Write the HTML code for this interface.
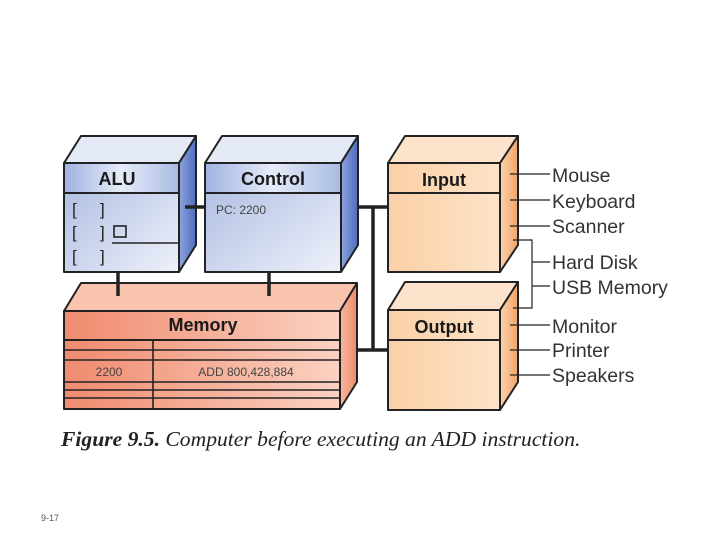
<!DOCTYPE html>
<html><head><style>body{margin:0;background:#fff}svg{display:block}</style></head><body>
<svg width="720" height="540" viewBox="0 0 720 540" xmlns="http://www.w3.org/2000/svg" font-family="Liberation Sans, sans-serif">
<defs>
<linearGradient id="bf" x1="0" y1="0" x2="1" y2="1"><stop offset="0" stop-color="#a9b9e0"/><stop offset="1" stop-color="#eef1fa"/></linearGradient>
<linearGradient id="bh" x1="0" y1="0" x2="1" y2="0"><stop offset="0" stop-color="#9fb2e0"/><stop offset="0.5" stop-color="#e6ebf8"/><stop offset="1" stop-color="#a9bbe3"/></linearGradient>
<linearGradient id="bs" x1="0" y1="0" x2="1" y2="0"><stop offset="0" stop-color="#8ea4dc"/><stop offset="1" stop-color="#4e6cc0"/></linearGradient>
<linearGradient id="rf" x1="0" y1="0" x2="1" y2="0"><stop offset="0" stop-color="#f08a6e"/><stop offset="1" stop-color="#fbd2c2"/></linearGradient>
<linearGradient id="rs" x1="0" y1="0" x2="1" y2="0"><stop offset="0" stop-color="#f7b8a0"/><stop offset="1" stop-color="#ee8a6a"/></linearGradient>
<linearGradient id="of" x1="0" y1="0" x2="1" y2="0"><stop offset="0" stop-color="#fbd0a6"/><stop offset="1" stop-color="#fde3c8"/></linearGradient>
<linearGradient id="os" x1="0" y1="0" x2="1" y2="0"><stop offset="0" stop-color="#fbd3ae"/><stop offset="1" stop-color="#f2a466"/></linearGradient>
</defs>
<g stroke="#222" stroke-width="2" stroke-linejoin="round">
<polygon points="64,163 81,136 196,136 179,163" fill="#e4e9f6"/>
<polygon points="179,163 196,136 196,245 179,272" fill="url(#bs)"/>
<rect x="64" y="163" width="115" height="109" fill="url(#bf)"/>
<rect x="64" y="163" width="115" height="30" fill="url(#bh)"/>
<polygon points="205,163 222,136 358,136 341,163" fill="#e4e9f6"/>
<polygon points="341,163 358,136 358,245 341,272" fill="url(#bs)"/>
<rect x="205" y="163" width="136" height="109" fill="url(#bf)"/>
<rect x="205" y="163" width="136" height="30" fill="url(#bh)"/>
<polygon points="64,311 81,283 357,283 340,311" fill="#f8c4ae"/>
<polygon points="340,311 357,283 357,382 340,409" fill="url(#rs)"/>
<rect x="64" y="311" width="276" height="98" fill="url(#rf)"/>
<line x1="64" y1="340" x2="340" y2="340"/>
<polygon points="388,163 405,136 518,136 500,163" fill="#fde3cb"/>
<polygon points="500,163 518,136 518,245 500,272" fill="url(#os)"/>
<rect x="388" y="163" width="112" height="109" fill="url(#of)"/>
<line x1="388" y1="193" x2="500" y2="193"/>
<polygon points="388,310 405,282 518,282 500,310" fill="#fde3cb"/>
<polygon points="500,310 518,282 518,382 500,410" fill="url(#os)"/>
<rect x="388" y="310" width="112" height="100" fill="url(#of)"/>
<line x1="388" y1="340" x2="500" y2="340"/>
</g>
<g stroke="#222" stroke-width="1.6" fill="none">
<line x1="64" y1="350" x2="340" y2="350"/><line x1="64" y1="360" x2="340" y2="360"/>
<line x1="64" y1="382" x2="340" y2="382"/><line x1="64" y1="390" x2="340" y2="390"/><line x1="64" y1="398" x2="340" y2="398"/>
<line x1="153" y1="340" x2="153" y2="409"/>
<rect x="114" y="226" width="12" height="11"/>
<line x1="112" y1="243" x2="179" y2="243"/>
</g>
<g stroke="#222" stroke-width="3.5" fill="none">
<line x1="185" y1="207" x2="205" y2="207"/>
<line x1="358" y1="207" x2="388" y2="207"/>
<line x1="357" y1="350" x2="388" y2="350"/>
<line x1="373" y1="207" x2="373" y2="350"/>
<line x1="118" y1="272" x2="118" y2="296"/>
<line x1="269" y1="272" x2="269" y2="296"/>
</g>
<g stroke="#222" stroke-width="1.2" fill="none">
<line x1="510" y1="174" x2="550" y2="174"/><line x1="510" y1="200" x2="550" y2="200"/><line x1="510" y1="226" x2="550" y2="226"/>
<polyline points="513,240 532,240 532,308 513,308"/>
<line x1="532" y1="262" x2="550" y2="262"/><line x1="532" y1="286" x2="550" y2="286"/>
<line x1="510" y1="325" x2="550" y2="325"/><line x1="510" y1="350" x2="550" y2="350"/><line x1="510" y1="375" x2="550" y2="375"/>
</g>
<g font-weight="bold" font-size="18" fill="#1a1a1a" text-anchor="middle">
<text x="117" y="185">ALU</text><text x="273" y="185">Control</text>
<text x="203" y="331">Memory</text><text x="444" y="186">Input</text><text x="444" y="333">Output</text>
</g>
<g font-size="17" fill="#222">
<text x="72" y="215">[</text><text x="100" y="215">]</text>
<text x="72" y="238">[</text><text x="100" y="238">]</text>
<text x="72" y="262">[</text><text x="100" y="262">]</text>
</g>
<g font-size="12" fill="#444"><text x="216" y="214">PC: 2200</text>
<text x="109" y="376" text-anchor="middle">2200</text><text x="246" y="376" text-anchor="middle">ADD 800,428,884</text></g>
<g font-size="19.5" fill="#333">
<text x="552" y="182">Mouse</text><text x="552" y="208">Keyboard</text><text x="552" y="233">Scanner</text>
<text x="552" y="269">Hard Disk</text><text x="552" y="294">USB Memory</text>
<text x="552" y="333">Monitor</text><text x="552" y="357">Printer</text><text x="552" y="382">Speakers</text>
</g>
<text x="61" y="446" font-family="Liberation Serif, serif" font-size="21.6" fill="#222"><tspan font-weight="bold" font-style="italic">Figure 9.5.</tspan><tspan font-style="italic"> Computer before executing an ADD instruction.</tspan></text>
<text x="41" y="521" font-size="9" fill="#555">9-17</text>
</svg>
</body></html>
